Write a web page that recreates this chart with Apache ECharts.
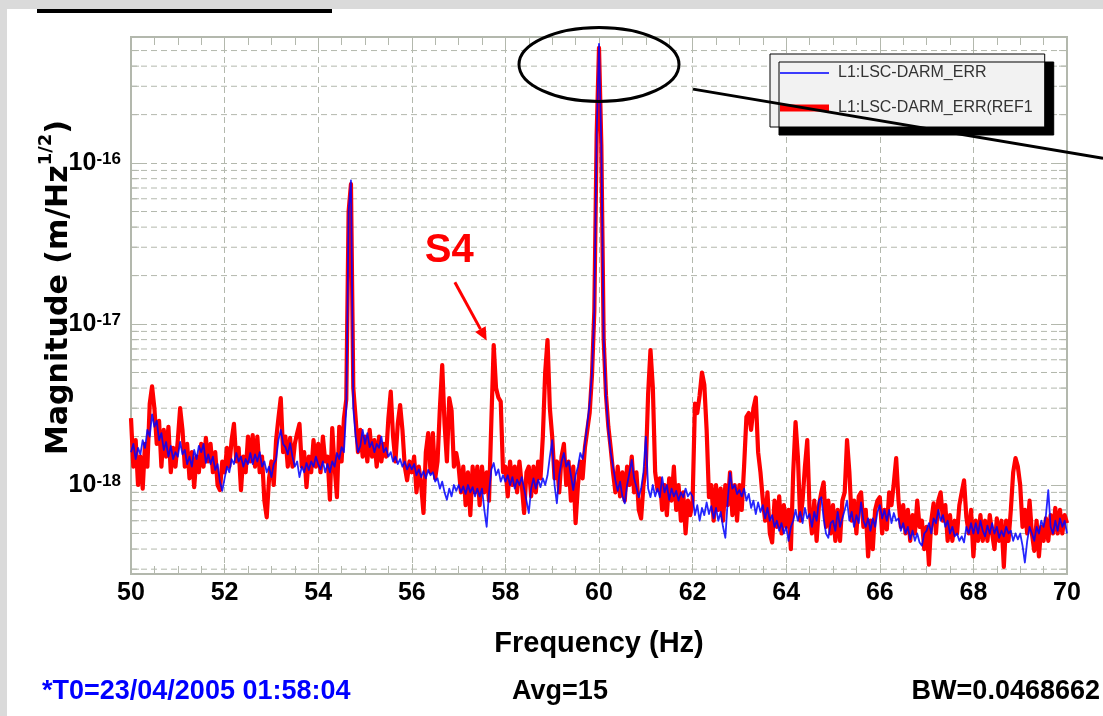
<!DOCTYPE html>
<html>
<head>
<meta charset="utf-8">
<script src="https://cdn.jsdelivr.net/npm/echarts@6/dist/echarts.min.js"></script>
<style>
html,body{margin:0;padding:0;background:#fff;}
#c{width:1103px;height:716px;}
</style>
</head>
<body>
<div id="c"></div>
<script>
// ---------------- DATA ----------------
// Spectrum sampled every 0.05 Hz from 50 Hz to 70 Hz; values in units of 1e-18 m/Hz^1/2
const UNIT = 1e-18;
const FREQ_START = 50;
const FREQ_STEP = 0.05;

const blueVals = [
  1.6, 1.8, 1.45, 1.7, 1.55, 1.9, 1.7, 2.2, 2.0, 2.75, 2.3, 2.5, 1.9, 2.1, 1.65, 1.85, 1.5, 1.75, 1.45, 1.6,
  1.5, 1.85, 1.55, 1.65, 1.35, 1.5, 1.3, 1.65, 1.45, 1.75, 1.6, 1.8, 1.37, 1.55, 1.35, 1.5, 1.24, 1.35, 1.05, 0.92,
  1.1, 1.3, 1.2, 1.45, 1.35, 1.58, 1.4, 1.5, 1.3, 1.45, 1.35, 1.58, 1.35, 1.55, 1.4, 1.6, 1.3, 1.4, 1.2, 1.3,
  1.12, 1.35, 1.45, 1.9, 2.2, 1.8, 1.72, 1.55, 1.82, 1.5, 1.3, 1.4, 1.12, 1.3, 1.2, 1.37, 1.24, 1.4, 1.3, 1.5,
  1.35, 1.25, 1.4, 1.2, 1.35, 1.2, 1.4, 1.3, 1.58, 1.45, 1.72, 1.6, 3.0, 50, 78, 3.0, 2.0, 1.6, 1.75, 2.2,
  1.8, 2.1, 1.72, 1.85, 1.6, 1.8, 1.7, 2.0, 1.6, 1.7, 1.5, 1.6, 1.4, 1.5, 1.35, 1.45, 1.3, 1.4, 1.25, 1.35,
  1.25, 1.35, 1.15, 1.25, 1.12, 1.22, 1.1, 1.24, 1.15, 1.2, 1.05, 1.1, 0.95, 1.05, 0.9, 0.81, 0.95, 0.85, 1.0, 0.92,
  1.0, 0.9, 0.98, 0.88, 1.0, 0.9, 0.97, 0.85, 0.95, 0.85, 0.95, 0.7, 0.55, 0.9, 1.25, 1.37, 1.15, 1.25, 1.05, 1.15,
  1.05, 1.15, 1.0, 1.12, 0.95, 1.08, 1.0, 1.12, 0.95, 0.8, 0.67, 0.95, 1.1, 0.95, 1.08, 0.97, 1.1, 1.0, 1.15, 1.5,
  1.9, 1.0, 0.77, 1.15, 1.4, 1.58, 1.3, 1.4, 1.15, 0.93, 1.15, 1.3, 1.58, 1.45, 1.8, 2.4, 3.2, 5.0, 12, 150,
  550, 130, 8, 3.5, 2.2, 1.6, 1.3, 1.07, 0.92, 1.05, 0.85, 0.77, 1.0, 1.19, 1.43, 1.1, 0.97, 0.84, 0.95, 1.2,
  2.0, 0.95, 0.84, 1.0, 0.85, 0.95, 0.84, 1.12, 0.9, 1.0, 0.81, 0.95, 0.85, 0.92, 0.8, 0.9, 0.84, 0.95, 0.85, 0.9,
  0.85, 0.65, 0.75, 0.6, 0.72, 0.65, 0.78, 0.66, 0.74, 0.62, 0.72, 0.6, 0.68, 0.55, 0.47, 0.8, 1.19, 0.95, 1.0, 0.88,
  0.93, 0.85, 0.95, 0.8, 0.88, 0.72, 0.8, 0.66, 0.78, 0.68, 0.75, 0.62, 0.72, 0.6, 0.65, 0.55, 0.6, 0.52, 0.58, 0.5,
  0.55, 0.45, 0.55, 0.6, 0.7, 0.6, 0.68, 0.58, 0.72, 0.62, 0.66, 0.55, 0.68, 0.6, 0.8, 0.84, 0.62, 0.5, 0.47, 0.58,
  0.6, 0.52, 0.68, 0.55, 0.62, 0.7, 0.8, 0.6, 0.68, 0.55, 0.65, 0.58, 0.78, 0.6, 0.55, 0.62, 0.52, 0.62, 0.55, 0.68,
  0.75, 0.62, 0.7, 0.6, 0.7, 0.58, 0.67, 0.6, 0.62, 0.52, 0.58, 0.5, 0.55, 0.46, 0.52, 0.45, 0.5, 0.44, 0.42, 0.5,
  0.52, 0.58, 0.5, 0.62, 0.58, 0.7, 0.6, 0.65, 0.55, 0.6, 0.5, 0.55, 0.48, 0.5, 0.45, 0.48, 0.44, 0.55, 0.5, 0.58,
  0.5, 0.58, 0.5, 0.6, 0.52, 0.48, 0.56, 0.5, 0.58, 0.5, 0.55, 0.47, 0.52, 0.48, 0.55, 0.5, 0.52, 0.45, 0.5, 0.46,
  0.5, 0.42, 0.33, 0.45, 0.55, 0.5, 0.45, 0.55, 0.5, 0.6, 0.55, 0.65, 0.93, 0.55, 0.5, 0.6, 0.52, 0.62, 0.55, 0.6,
  0.5
];

const redVals = [
  2.6, 1.3, 1.9, 1.0, 1.5, 0.95, 1.8, 1.3, 3.2, 4.1, 3.0, 1.8, 2.5, 1.3, 2.2, 1.5, 2.3, 1.2, 1.7, 1.3,
  1.9, 3.0, 2.2, 1.3, 1.8, 1.1, 1.6, 0.97, 1.5, 1.2, 1.8, 1.3, 1.96, 1.4, 1.8, 1.2, 1.6, 1.0, 0.93, 1.4,
  1.2, 1.7, 1.3, 1.9, 2.4, 1.4, 1.7, 0.93, 1.5, 1.2, 2.0, 1.4, 2.04, 1.3, 2.0, 1.2, 1.5, 0.8, 0.63, 1.1,
  1.4, 1.0, 1.9, 2.6, 3.47, 1.6, 2.0, 1.3, 1.96, 1.3, 1.8, 2.1, 2.4, 1.3, 1.6, 0.97, 1.5, 1.2, 1.9, 1.3,
  1.8, 1.2, 2.0, 1.4, 1.5, 0.81, 2.26, 1.3, 0.84, 2.3, 1.4, 2.6, 3.4, 50, 74, 4.0, 2.6, 1.6, 2.2, 1.5,
  2.0, 1.4, 2.2, 1.5, 1.9, 1.3, 2.0, 1.4, 1.8, 1.5, 2.6, 3.8, 2.0, 1.4, 2.4, 3.14, 2.2, 1.3, 1.07, 1.4,
  1.2, 1.5, 0.9, 1.3, 1.0, 0.67, 1.6, 2.1, 1.2, 2.1, 1.1, 1.4, 3.0, 5.56, 2.4, 1.4, 3.47, 2.9, 1.3, 1.58,
  1.3, 0.9, 1.3, 0.75, 1.2, 0.65, 1.3, 0.9, 1.3, 0.75, 1.3, 0.9, 1.2, 0.8, 2.5, 7.4, 4.0, 3.5, 3.3, 1.2,
  1.3, 0.85, 1.4, 1.0, 1.3, 0.9, 1.4, 1.0, 0.67, 1.2, 1.3, 0.85, 1.3, 0.9, 1.4, 1.1, 2.0, 5.0, 7.96, 3.0,
  2.0, 1.1, 1.4, 0.9, 1.5, 1.8, 1.0, 1.4, 0.8, 1.3, 0.58, 1.0, 1.4, 1.1, 1.72, 2.2, 2.8, 4.8, 12, 150,
  520, 130, 8, 3.6, 2.3, 1.7, 1.2, 0.9, 1.3, 0.85, 1.2, 0.8, 1.3, 1.0, 1.5, 0.9, 1.2, 0.7, 0.62, 1.0,
  1.3, 3.7, 6.9, 4.06, 1.2, 0.93, 1.1, 0.7, 1.0, 0.65, 1.1, 0.8, 1.3, 0.7, 1.0, 0.6, 0.9, 0.5, 0.8, 0.65,
  0.8, 3.2, 2.8, 3.6, 5.0, 4.2, 2.2, 0.84, 1.0, 0.6, 1.0, 0.7, 0.95, 0.6, 1.0, 0.75, 1.2, 0.65, 1.0, 0.6,
  1.0, 0.7, 1.3, 2.65, 2.8, 2.2, 3.0, 3.5, 1.6, 1.2, 0.81, 0.6, 0.9, 0.5, 0.44, 0.8, 0.55, 0.85, 0.5, 0.75,
  0.55, 0.7, 0.4, 1.2, 2.46, 1.5, 0.6, 0.8, 1.3, 1.9, 0.7, 0.5, 0.8, 0.45, 0.75, 0.9, 1.04, 0.55, 0.8, 0.5,
  0.75, 0.45, 0.7, 0.45, 0.8, 0.9, 1.9, 1.2, 0.6, 0.8, 0.5, 0.85, 0.9, 0.55, 0.7, 0.36, 0.6, 0.4, 0.7, 0.8,
  0.84, 0.5, 0.7, 0.53, 0.9, 0.75, 1.03, 1.47, 0.8, 0.55, 0.75, 0.5, 0.7, 0.45, 0.65, 0.5, 0.8, 0.55, 0.6, 0.4,
  0.55, 0.32, 0.6, 0.77, 0.5, 0.8, 0.9, 0.6, 0.75, 0.45, 0.65, 0.45, 0.6, 0.5, 0.75, 0.9, 1.07, 0.63, 0.5, 0.7,
  0.36, 0.6, 0.45, 0.65, 0.45, 0.6, 0.45, 0.65, 0.5, 0.4, 0.62, 0.45, 0.6, 0.31, 0.6, 0.45, 0.7, 1.2, 1.47, 1.3,
  1.0, 0.55, 0.7, 0.5, 0.8, 0.5, 0.39, 0.6, 0.36, 0.55, 0.45, 0.62, 0.45, 0.65, 0.5, 0.72, 0.5, 0.7, 0.5, 0.65,
  0.58
];

const X_MIN = 50, X_MAX = 70, X_INTERVAL = 2;
const Y_MIN = 2.8e-19, Y_MAX = 6.07e-16;
const yMinorGrid = [3e-19, 4e-19, 5e-19, 6e-19, 7e-19, 8e-19, 9e-19,
  2e-18, 3e-18, 4e-18, 5e-18, 6e-18, 7e-18, 8e-18, 9e-18,
  2e-17, 3e-17, 4e-17, 5e-17, 6e-17, 7e-17, 8e-17, 9e-17,
  2e-16, 3e-16, 4e-16, 5e-16];

const blueName = 'L1:LSC-DARM_ERR';
const redName = 'L1:LSC-DARM_ERR(REF1';
const xName = 'Frequency (Hz)';
const footLeft = '*T0=23/04/2005 01:58:04';
const footMid = 'Avg=15';
const footRight = 'BW=0.0468662';
const noteText = 'S4';

// ---------------- CHART ----------------
const FONT = "'Liberation Sans', Arial, sans-serif";
const FONT_W = "'DejaVu Sans', 'Liberation Sans', sans-serif";
const GRID = '#b3b8ad';

const freqs = blueVals.map((_, i) => +(FREQ_START + i * FREQ_STEP).toFixed(2));
const blueData = freqs.map((f, i) => [f, blueVals[i] * UNIT]);
const redData = freqs.map((f, i) => [f, redVals[i] * UNIT]);

// minor horizontal grid lines (dashed) and the short solid ticks on the left/right frame
const gridDash = [], gridTicks = [];
const TICK_W = 0.17;
yMinorGrid.forEach(v => {
  gridDash.push([X_MIN, v], [X_MAX, v], [X_MAX, null]);
  gridTicks.push([X_MIN, v], [X_MIN + TICK_W, v], [X_MIN + TICK_W, null]);
  gridTicks.push([X_MAX - TICK_W, v], [X_MAX, v], [X_MAX, null]);
});

const chart = echarts.init(document.getElementById('c'), null, { renderer: 'canvas' });

const legendIconThin = 'path://M0,0h0.05v0.05h-0.05zM0,6.2h49v1.6h-49zM52.95,13.95h0.05v0.05h-0.05z';
const legendIconThick = 'path://M0,0h0.05v0.05h-0.05zM0,3.6h49v6.8h-49zM52.95,13.95h0.05v0.05h-0.05z';

chart.setOption({
  animation: false,
  backgroundColor: '#ffffff',
  grid: { left: 131, right: 36, top: 37, bottom: 142, show: true, borderColor: GRID, borderWidth: 2, backgroundColor: '#fff' },
  legend: {
    orient: 'vertical', left: 770, top: 54,
    padding: [11, 12, 11, 10],
    itemWidth: 53, itemHeight: 14, itemGap: 19,
    backgroundColor: '#f2f2f2', borderColor: '#000', borderWidth: 1,
    shadowColor: '#000', shadowOffsetX: 9, shadowOffsetY: 8, shadowBlur: 0,
    textStyle: { fontFamily: FONT, fontSize: 16, color: '#333' },
    selectedMode: false,
    data: [
      { name: blueName, icon: legendIconThin, itemStyle: { color: '#0000ff', borderWidth: 0 } },
      { name: redName, icon: legendIconThick, itemStyle: { color: '#ff0000', borderWidth: 0 } }
    ]
  },
  xAxis: [{
    type: 'value', min: X_MIN, max: X_MAX, interval: X_INTERVAL,
    axisLine: { show: false },
    axisTick: { show: true, inside: true, length: 10, lineStyle: { color: GRID, width: 1 } },
    minorTick: { show: true, splitNumber: 4, length: 8, lineStyle: { color: GRID, width: 1 } },
    splitLine: { show: true, lineStyle: { color: GRID, type: [6, 4], width: 1 } },
    axisLabel: { fontFamily: FONT, fontWeight: 'bold', fontSize: 25, color: '#000', margin: 7 },
    name: xName, nameLocation: 'middle', nameGap: 55,
    nameTextStyle: { fontFamily: FONT, fontWeight: 'bold', fontSize: 29, color: '#000' }
  }, {
    type: 'value', position: 'top', min: X_MIN, max: X_MAX, interval: X_INTERVAL,
    axisLine: { show: false },
    axisTick: { show: true, inside: true, length: 10, lineStyle: { color: GRID, width: 1 } },
    minorTick: { show: true, splitNumber: 4, length: 8, lineStyle: { color: GRID, width: 1 } },
    splitLine: { show: false }, axisLabel: { show: false }
  }],
  yAxis: [{
    type: 'log', logBase: 10, min: Y_MIN, max: Y_MAX,
    axisLine: { show: false },
    axisTick: { show: true, inside: true, length: 16, lineStyle: { color: GRID, width: 1 } },
    splitLine: { show: true, lineStyle: { color: GRID, type: [6, 4], width: 1 } },
    axisLabel: {
      margin: 10, showMinLabel: false, showMaxLabel: false,
      formatter: v => {
        const e = Math.log10(v), r = Math.round(e);
        if (Math.abs(e - r) > 1e-6) return '';
        return '{b|10}{s|' + r + '}';
      },
      rich: {
        b: { fontFamily: FONT, fontWeight: 'bold', fontSize: 25, color: '#000', lineHeight: 25, padding: [11, 0, 11, 0] },
        s: { fontFamily: FONT, fontWeight: 'bold', fontSize: 17, color: '#000', lineHeight: 17, verticalAlign: 'top' }
      }
    },
    name: '{n|Magnitude (m/Hz}{s|1/2}{n|)}', nameLocation: 'middle', nameGap: 64,
    nameMoveOverlap: false,
    nameTextStyle: {
      padding: [0, 0, 0, 36],
      rich: {
        n: { fontFamily: FONT_W, fontWeight: 'bold', fontSize: 30, color: '#000', lineHeight: 30, padding: [14, 0, 0, 0] },
        s: { fontFamily: FONT_W, fontWeight: 'bold', fontSize: 18, color: '#000', lineHeight: 18, verticalAlign: 'top' }
      }
    }
  }, {
    type: 'log', logBase: 10, min: Y_MIN, max: Y_MAX, position: 'right',
    axisLine: { show: false },
    axisTick: { show: true, inside: true, length: 16, lineStyle: { color: GRID, width: 1 } },
    splitLine: { show: false }, axisLabel: { show: false }
  }],
  series: [{
    name: 'minorGrid', type: 'line', data: gridDash, symbol: 'none', silent: true, z: 1,
    connectNulls: false,
    lineStyle: { color: GRID, type: [6, 4], width: 1 },
    emphasis: { disabled: true }, tooltip: { show: false }
  }, {
    name: 'minorTicks', type: 'line', data: gridTicks, symbol: 'none', silent: true, z: 1,
    connectNulls: false,
    lineStyle: { color: GRID, type: 'solid', width: 1 },
    emphasis: { disabled: true }, tooltip: { show: false }
  }, {
    name: redName, type: 'line', data: redData, symbol: 'none', z: 3,
    lineStyle: { color: '#ff0000', width: 4.2, join: 'round' },
    itemStyle: { color: '#ff0000' }
  }, {
    name: blueName, type: 'line', data: blueData, symbol: 'none', z: 4,
    lineStyle: { color: '#0000ff', width: 1.8, opacity: 0.85, join: 'round' },
    itemStyle: { color: '#0000ff' }
  }]
});

// ----- annotations & frame, anchored through the chart's own scales -----
const px = (f, v) => chart.convertToPixel({ xAxisIndex: 0, yAxisIndex: 0 }, [f, v]);
const ell = px(60, 4.1e-16);
const lnA = px(62.01, 2.88e-16), lnB = px(70.77, 1.07e-16);
const s4 = px(56.8, 2.84e-17);
const arA = px(56.92, 1.82e-17), arB = px(57.6, 7.9e-18);
const dx = arB[0] - arA[0], dy = arB[1] - arA[1], L = Math.hypot(dx, dy);
const ux = dx / L, uy = dy / L;
const headLen = 13, headW = 6;
const back = [arB[0] - ux * headLen, arB[1] - uy * headLen];

chart.setOption({
  graphic: [
    { type: 'rect', shape: { x: 0, y: 0, width: 1103, height: 9 }, style: { fill: '#dadada' }, z: 50 },
    { type: 'rect', shape: { x: 0, y: 0, width: 7, height: 716 }, style: { fill: '#dadada' }, z: 50 },
    { type: 'rect', shape: { x: 37, y: 9, width: 295, height: 4 }, style: { fill: '#000' }, z: 51 },
    { type: 'ellipse', shape: { cx: ell[0], cy: ell[1], rx: 80, ry: 37 }, style: { fill: null, stroke: '#000', lineWidth: 3 }, z: 60 },
    { type: 'line', shape: { x1: lnA[0], y1: lnA[1], x2: lnB[0], y2: lnB[1] }, style: { stroke: '#000', lineWidth: 3 }, z: 60 },
    { type: 'text', x: s4[0], y: s4[1], style: { text: noteText, font: "bold 40px " + FONT, fill: '#ff0000', align: 'center', verticalAlign: 'middle' }, z: 60 },
    { type: 'line', shape: { x1: arA[0], y1: arA[1], x2: back[0], y2: back[1] }, style: { stroke: '#ff0000', lineWidth: 3 }, z: 60 },
    { type: 'polygon', shape: { points: [arB, [back[0] - uy * headW, back[1] + ux * headW], [back[0] + uy * headW, back[1] - ux * headW]] }, style: { fill: '#ff0000' }, z: 60 },
    { type: 'text', x: 42, y: 692, style: { text: footLeft, font: "bold 27px " + FONT, fill: '#0000ff', align: 'left', verticalAlign: 'middle' }, z: 60 },
    { type: 'text', x: 560, y: 692, style: { text: footMid, font: "bold 27px " + FONT, fill: '#000', align: 'center', verticalAlign: 'middle' }, z: 60 },
    { type: 'text', x: 1100, y: 692, style: { text: footRight, font: "bold 27px " + FONT, fill: '#000', align: 'right', verticalAlign: 'middle' }, z: 60 }
  ]
});
</script>
</body>
</html>
